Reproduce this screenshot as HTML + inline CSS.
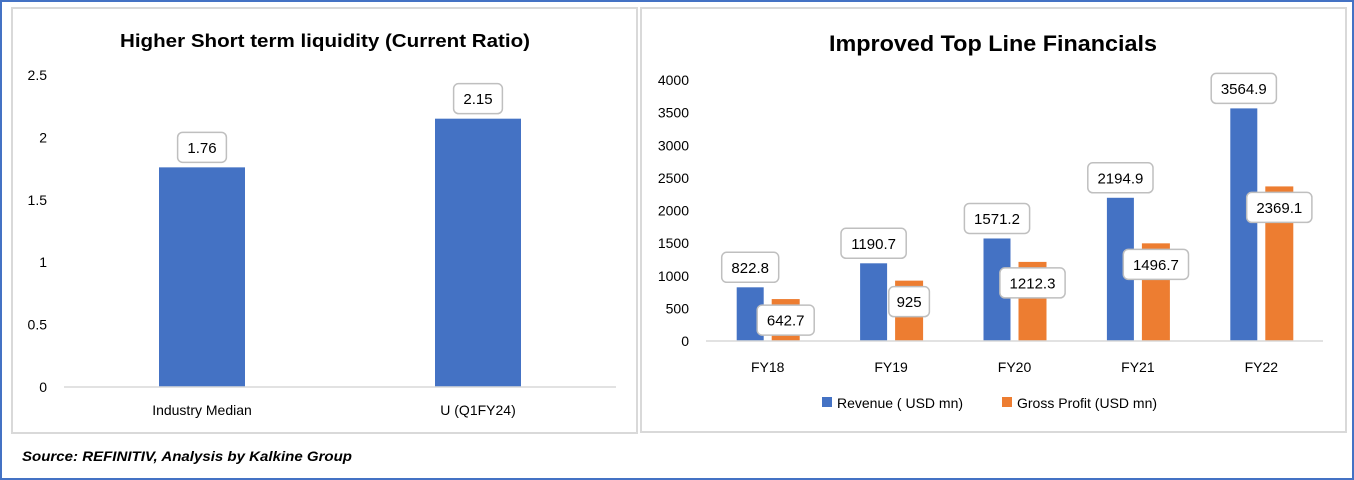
<!DOCTYPE html>
<html><head><meta charset="utf-8"><style>
html,body{margin:0;padding:0;background:#fff;}
svg{display:block;font-family:"Liberation Sans",sans-serif;}
</style></head><body>
<svg id="root" width="1354" height="480" viewBox="0 0 1354 480">
<rect x="1" y="1" width="1352" height="478" fill="#fff" stroke="#4472c4" stroke-width="2"/>
<rect x="12" y="8" width="625" height="425" fill="#fff" stroke="#d9d9d9" stroke-width="2"/>
<rect x="641" y="8" width="705" height="424" fill="#fff" stroke="#d9d9d9" stroke-width="2"/>
<text x="325" y="47" text-anchor="middle" font-size="18" font-weight="bold" textLength="410" lengthAdjust="spacingAndGlyphs">Higher Short term liquidity (Current Ratio)</text>
<text x="993" y="51" text-anchor="middle" font-size="22" font-weight="bold" textLength="328" lengthAdjust="spacingAndGlyphs">Improved Top Line Financials</text>
<text x="22" y="461" font-size="14" font-weight="bold" font-style="italic" textLength="330" lengthAdjust="spacingAndGlyphs">Source: REFINITIV, Analysis by Kalkine Group</text>
<g id="left"></g>
<g id="right"></g>
</svg>
<script>
const leftCats = ["Industry Median", "U (Q1FY24)"];
const leftVals = [1.76, 2.15];
const leftTicks = [0, 0.5, 1, 1.5, 2, 2.5];
const rightCats = ["FY18", "FY19", "FY20", "FY21", "FY22"];
const revenue = [822.8, 1190.7, 1571.2, 2194.9, 3564.9];
const grossProfit = [642.7, 925, 1212.3, 1496.7, 2369.1];
const rightTicks = [0, 500, 1000, 1500, 2000, 2500, 3000, 3500, 4000];
const seriesNames = ["Revenue ( USD mn)", "Gross Profit (USD mn)"];

const NS = "http://www.w3.org/2000/svg";
function mk(tag, attrs, parent, txt) {
  const e = document.createElementNS(NS, tag);
  for (const k in attrs) e.setAttribute(k, attrs[k]);
  if (txt !== undefined) e.textContent = txt;
  parent.appendChild(e);
  return e;
}
function labelBox(parent, cx, cy, txt, name) {
  const w = txt.length * 8.2 + 16, h = 30;
  const r = mk("rect", {x: cx - w/2, y: cy - h/2, width: w, height: h, rx: 5, fill: "#fff", stroke: "#bfbfbf", "stroke-width": 1.5}, parent);
  
  
  const t = mk("text", {x: cx, y: cy + 5.5, "text-anchor": "middle", "font-size": 15, fill: "#000"}, parent, txt);
  
  
}

// Left chart
const L = document.getElementById("left");
const ly0 = 387, ly1 = 75, lmax = 2.5;
const ly = v => ly0 - (v / lmax) * (ly0 - ly1);
const lx0 = 64, lx1 = 616;
const lband = (lx1 - lx0) / leftCats.length;
const lcx = i => lx0 + lband * (i + 0.5);
leftTicks.forEach(t => {
  const e = mk("text", {x: 47, y: ly(t) + 5, "text-anchor": "end", "font-size": 14, fill: "#000"}, L, String(t));
  
  
});
leftVals.forEach((v, i) => {
  const cx = lcx(i);
  const b = mk("rect", {x: cx - 43, y: ly(v), width: 86, height: ly0 - ly(v), fill: "#4472c4"}, L);
  
  
  labelBox(L, cx, ly(v) - 20, String(v), 'left-value-label');
  const c = mk("text", {x: cx, y: 415, "text-anchor": "middle", "font-size": 14, fill: "#000"}, L, leftCats[i]);
  
  
});
const la = mk("line", {x1: lx0, x2: lx1, y1: ly0, y2: ly0, stroke: "#d9d9d9", "stroke-width": 1.5}, L);



// Right chart
const R = document.getElementById("right");
const ry0 = 341, ry1 = 80, rmax = 4000;
const ry = v => ry0 - (v / rmax) * (ry0 - ry1);
const rx0 = 706, rx1 = 1323;
const rband = (rx1 - rx0) / rightCats.length;
const rcx = i => rx0 + rband * (i + 0.5);
rightTicks.forEach(t => {
  const e = mk("text", {x: 689, y: ry(t) + 5, "text-anchor": "end", "font-size": 14, fill: "#000"}, R, String(t));
  
  
});
rightCats.forEach((c, i) => {
  const cx = rcx(i);
  const bw = 27;
  const b1 = mk("rect", {x: cx - 31, y: ry(revenue[i]), width: bw, height: ry0 - ry(revenue[i]), fill: "#4472c4"}, R);
  
  
  const b2 = mk("rect", {x: cx + 4, y: ry(grossProfit[i]), width: bw + 1, height: ry0 - ry(grossProfit[i]), fill: "#ed7d31"}, R);
  
  
  const t = mk("text", {x: cx, y: 372, "text-anchor": "middle", "font-size": 14, fill: "#000"}, R, c);
  
  
});
rightCats.forEach((c, i) => {
  const cx = rcx(i);
  labelBox(R, cx - 17.5, ry(revenue[i]) - 20, String(revenue[i]), 'revenue-value-label');
  labelBox(R, cx + 18, ry(grossProfit[i]) + 21, String(grossProfit[i]), 'gross-profit-value-label');
});
const ra = mk("line", {x1: rx0, x2: rx1, y1: ry0, y2: ry0, stroke: "#d9d9d9", "stroke-width": 1.5}, R);



// Legend
const legendX = [822, 1002];
const colors = ["#4472c4", "#ed7d31"];
seriesNames.forEach((n, i) => {
  const s = mk("rect", {x: legendX[i], y: 397, width: 10, height: 10, fill: colors[i]}, R);
  
  
  const t = mk("text", {x: legendX[i] + 15, y: 408, "font-size": 14, fill: "#000"}, R, n);
  
  
});
</script>
</body></html>
